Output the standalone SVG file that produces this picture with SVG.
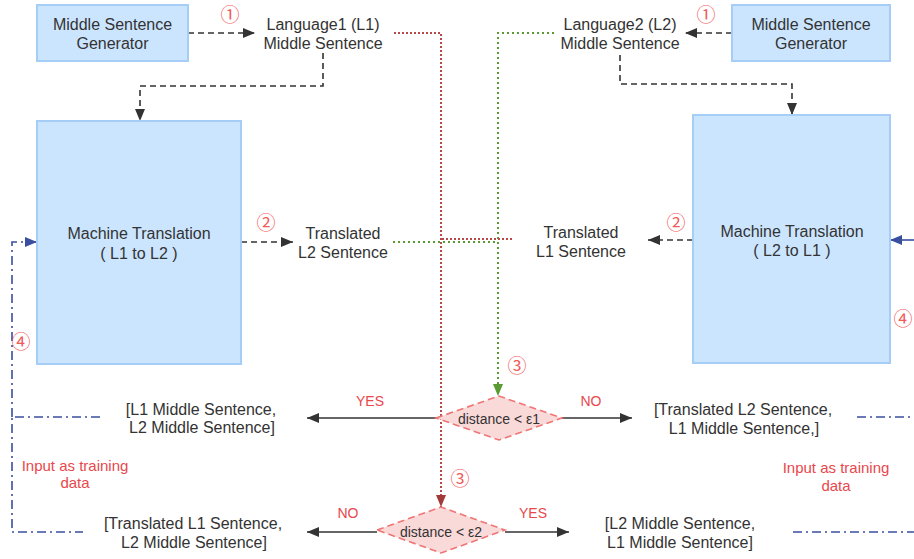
<svg xmlns="http://www.w3.org/2000/svg" width="914" height="559" viewBox="0 0 914 559">
<style>
.box{fill:#cce5ff;stroke:#a6cdf5;stroke-width:2}
.t{font-family:"Liberation Sans",Arial,sans-serif;font-size:16px;fill:#333;text-anchor:middle}
.r{font-family:"Liberation Sans",Arial,sans-serif;font-size:15px;fill:#e8474c;text-anchor:middle}
.yn{font-family:"Liberation Sans",Arial,sans-serif;font-size:14px;fill:#e8474c;text-anchor:middle}
.dt{font-family:"Liberation Sans",Arial,sans-serif;font-size:14px;fill:#333;text-anchor:middle}
.n{font-family:"Noto Sans CJK SC","DejaVu Sans",sans-serif;font-size:19px;fill:#f05a5a;text-anchor:middle;dominant-baseline:central}
.dash{fill:none;stroke:#333;stroke-width:1.6;stroke-dasharray:6 4}
.solid{fill:none;stroke:#333;stroke-width:1.6}
.red{fill:none;stroke:#b8494a;stroke-width:2;stroke-dasharray:2 2}
.green{fill:none;stroke:#5a9a32;stroke-width:2;stroke-dasharray:2 3}
.blue{fill:none;stroke:#3a4fa0;stroke-width:1.6;stroke-dasharray:9 4 2 4}
.dia{fill:#fad9d9;stroke:#f07575;stroke-width:1.6;stroke-dasharray:7 4}
</style>
<defs>
<marker id="ak" markerUnits="userSpaceOnUse" markerWidth="12" markerHeight="10" refX="12" refY="5" orient="auto"><path d="M0,0 L12,5 L0,10 z" fill="#333"/></marker>
<marker id="ar" markerUnits="userSpaceOnUse" markerWidth="12" markerHeight="10" refX="12" refY="5" orient="auto"><path d="M0,0 L12,5 L0,10 z" fill="#a33a3a"/></marker>
<marker id="ag" markerUnits="userSpaceOnUse" markerWidth="12" markerHeight="10" refX="12" refY="5" orient="auto"><path d="M0,0 L12,5 L0,10 z" fill="#5a9a32"/></marker>
<marker id="ab" markerUnits="userSpaceOnUse" markerWidth="12" markerHeight="10" refX="12" refY="5" orient="auto"><path d="M0,0 L12,5 L0,10 z" fill="#3a4fa0"/></marker>
</defs>

<g id="connectors">
<path class="dash" d="M188,33 H255" marker-end="url(#ak)"/>
<path class="dash" d="M323,53 V86 H140 V121" marker-end="url(#ak)"/>
<path class="dash" d="M732,33 H685" marker-end="url(#ak)"/>
<path class="dash" d="M620,55 V84 H792 V115" marker-end="url(#ak)"/>
<path class="dash" d="M241,242 H293" marker-end="url(#ak)"/>
<path class="dash" d="M693,240 H648" marker-end="url(#ak)"/>
<path class="green" d="M393,242 H498"/>
<path class="green" d="M554,33 H498 V396" marker-end="url(#ag)"/>
<path class="red" d="M512,239 H441"/>
<path class="red" d="M394,33 H441 V507" marker-end="url(#ar)"/>
<path class="solid" d="M436,418 H307" marker-end="url(#ak)"/>
<path class="solid" d="M562,418 H632" marker-end="url(#ak)"/>
<path class="solid" d="M377,532 H307" marker-end="url(#ak)"/>
<path class="solid" d="M505,532 H569" marker-end="url(#ak)"/>
<path class="blue" d="M100,417 H12 V532 H83"/>
<path class="blue" d="M12,417 V242 H37" marker-end="url(#ab)"/>
<path class="blue" d="M857,417 H920"/>
<path class="blue" d="M793,532 H920"/>
<path class="blue" d="M920,240 H890" marker-end="url(#ab)" style="stroke-dasharray:none"/>
</g>

<g id="msg-left"><rect class="box" x="37" y="5" width="151" height="56"/><text class="t" x="112.5" y="29.5">Middle Sentence</text><text class="t" x="112.5" y="48.5">Generator</text></g>
<g id="msg-right"><rect class="box" x="732" y="5" width="158" height="56"/><text class="t" x="811" y="29.5">Middle Sentence</text><text class="t" x="811" y="48.5">Generator</text></g>
<g id="l1-middle"><text class="t" x="323" y="29.5">Language1 (L1)</text><text class="t" x="323" y="48.5">Middle Sentence</text></g>
<g id="l2-middle"><text class="t" x="620" y="29.5">Language2 (L2)</text><text class="t" x="620" y="48.5">Middle Sentence</text></g>
<g id="mt-left"><rect class="box" x="37" y="121" width="204" height="243"/><text class="t" x="139" y="238.5">Machine Translation</text><text class="t" x="139" y="258.5">( L1 to L2 )</text></g>
<g id="mt-right"><rect class="box" x="693" y="115" width="197" height="248"/><text class="t" x="792" y="236.5">Machine Translation</text><text class="t" x="792" y="255.5">( L2 to L1 )</text></g>
<g id="translated-l2"><text class="t" x="343" y="238.5">Translated</text><text class="t" x="343" y="257.5">L2 Sentence</text></g>
<g id="translated-l1"><text class="t" x="581" y="237.5">Translated</text><text class="t" x="581" y="256.5">L1 Sentence</text></g>
<g id="diamond1"><path class="dia" d="M436,418 L499,396 L562,418 L499,440 z"/><text class="dt" x="499" y="423.5">distance &lt; ε1</text></g>
<g id="diamond2"><path class="dia" d="M377,530 L441,507 L505,530 L441,553 z"/><text class="dt" x="441" y="536.5">distance &lt; ε2</text></g>
<g id="pair-yes1"><text class="t" x="201" y="414.5">[L1 Middle Sentence,</text><text class="t" x="202" y="432.5">L2 Middle Sentence]</text></g>
<g id="pair-no1"><text class="t" x="743" y="414.5">[Translated L2 Sentence,</text><text class="t" x="744" y="433.5">L1 Middle Sentence,]</text></g>
<g id="pair-no2"><text class="t" x="193" y="528.5">[Translated L1 Sentence,</text><text class="t" x="194" y="547.5">L2 Middle Sentence]</text></g>
<g id="pair-yes2"><text class="t" x="680" y="528.5">[L2 Middle Sentence,</text><text class="t" x="680" y="547.5">L1 Middle Sentence]</text></g>
<g id="labels">
<text class="yn" x="370" y="405.5">YES</text>
<text class="yn" x="591" y="405.5">NO</text>
<text class="yn" x="348" y="517.5">NO</text>
<text class="yn" x="533" y="517.5">YES</text>
<text class="r" x="75" y="471">Input as training</text><text class="r" x="75" y="488">data</text>
<text class="r" x="836" y="473">Input as training</text><text class="r" x="836" y="491">data</text>
<text class="n" x="230" y="13">①</text>
<text class="n" x="706" y="13">①</text>
<text class="n" x="266" y="221">②</text>
<text class="n" x="676" y="221">②</text>
<text class="n" x="517" y="364">③</text>
<text class="n" x="460" y="477">③</text>
<text class="n" x="21" y="340">④</text>
<text class="n" x="903" y="317">④</text>
</g>
</svg>
